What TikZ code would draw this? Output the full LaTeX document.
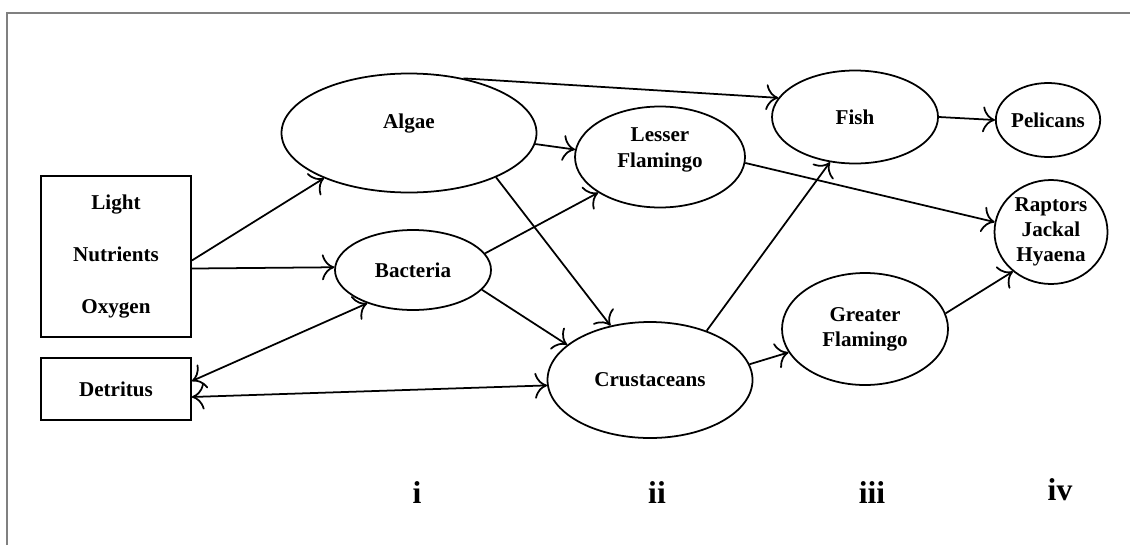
\documentclass[tikz,border=0pt]{standalone}
\usepackage{fontspec}
\setmainfont{Liberation Serif}
\usetikzlibrary{shapes.geometric,arrows.meta}
\begin{document}
\begin{tikzpicture}[line width=0.5pt, >={To[scale=1.3]},
  every node/.style={font=\bfseries\fontsize{6}{7.2}\selectfont, align=center},
  pool/.style={draw, ellipse, inner sep=0pt},
  box/.style={draw, rectangle, inner sep=0pt},
  level/.style={font=\bfseries\fontsize{9}{10}\selectfont}]
  \useasboundingbox (0,0) rectangle (11.30,5.45);
  \draw[gray, line width=0.85pt] (0.07,0) -- (0.07,5.32) -- (11.30,5.32);

  % inputs
  \node[box, minimum width=1.50cm, minimum height=1.61cm] (light) at (1.16,2.885) {Light\\[7.6pt]Nutrients\\[7.6pt]Oxygen};
  \node[box, minimum width=1.50cm, minimum height=0.62cm] (detritus) at (1.16,1.56) {Detritus};

  % food web
  \node[pool, minimum width=2.55cm, minimum height=1.19cm, text depth=7pt] (algae) at (4.09,4.12) {Algae};
  \node[pool, minimum width=1.56cm, minimum height=0.80cm] (bacteria) at (4.13,2.75) {Bacteria};
  \node[pool, minimum width=1.70cm, minimum height=1.01cm, text depth=5.3pt] (lesser) at (6.60,3.88) {Lesser\\Flamingo};
  \node[pool, minimum width=2.05cm, minimum height=1.16cm] (crust) at (6.50,1.65) {Crustaceans};
  \node[pool, minimum width=1.66cm, minimum height=0.93cm] (fish) at (8.55,4.28) {Fish};
  \node[pool, minimum width=1.66cm, minimum height=1.12cm] (greater) at (8.65,2.16) {Greater\\Flamingo};
  \node[pool, minimum width=1.00cm, minimum height=0.74cm] (pelicans) at (10.48,4.25) {Pelicans};
  \node[pool, minimum width=1.13cm, minimum height=1.04cm] (raptors) at (10.51,3.13) {Raptors\\Jackal\\Hyaena};

  % links
  \draw[->] (light.-3) -- (algae.208);
  \draw[->] (light.-9) -- (bacteria.178);
  \draw[<->] (detritus.6) -- (bacteria.216);
  \draw[<->] (detritus.-6) -- (crust.183);
  \draw[->] (algae.-5) -- (lesser.175);
  \draw[->] (algae.-27) -- (crust.126);
  \draw[->] (algae.45) -- (fish.166);
  \draw[->] (bacteria.13) -- (lesser.210);
  \draw[->] (bacteria.-16) -- (crust.157);
  \draw[->] (crust.41) -- (fish.241);
  \draw[->] (crust.9) -- (greater.197);
  \draw[->] (lesser.-4) -- (raptors.170);
  \draw[->] (fish.0) -- (pelicans.180);
  \draw[->] (greater.11) -- (raptors.226);

  % trophic levels
  \node[level] (lvl1) at (4.17,0.52) {i};
  \node[level] (lvl2) at (6.57,0.52) {ii};
  \node[level] (lvl3) at (8.72,0.52) {iii};
  \node[level] (lvl4) at (10.60,0.55) {iv};
\end{tikzpicture}
\end{document}
